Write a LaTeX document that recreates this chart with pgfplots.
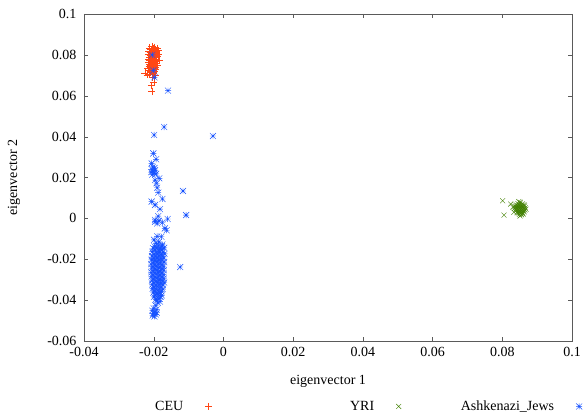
\documentclass[border=0pt]{standalone}
\usepackage{pgfplots}
\pgfplotsset{compat=1.18}
\usepackage{fontspec}
\setmainfont{Liberation Serif}
\definecolor{ceu}{RGB}{255,70,20}
\definecolor{yri}{RGB}{64,128,0}
\definecolor{ash}{RGB}{20,80,255}
\definecolor{axc}{RGB}{90,90,90}
\pgfdeclareplotmark{gpstar}{%
  \pgfpathmoveto{\pgfqpoint{-\pgfplotmarksize}{0pt}}\pgfpathlineto{\pgfqpoint{\pgfplotmarksize}{0pt}}%
  \pgfpathmoveto{\pgfqpoint{0pt}{-\pgfplotmarksize}}\pgfpathlineto{\pgfqpoint{0pt}{\pgfplotmarksize}}%
  \pgfpathmoveto{\pgfqpoint{-\pgfplotmarksize}{-\pgfplotmarksize}}\pgfpathlineto{\pgfqpoint{\pgfplotmarksize}{\pgfplotmarksize}}%
  \pgfpathmoveto{\pgfqpoint{-\pgfplotmarksize}{\pgfplotmarksize}}\pgfpathlineto{\pgfqpoint{\pgfplotmarksize}{-\pgfplotmarksize}}%
  \pgfusepathqstroke}
\begin{document}
\begin{tikzpicture}[font=\fontsize{14}{16}\selectfont]
\useasboundingbox (-84pt,-79pt) rectangle (502pt,341pt);
\begin{axis}[
  at={(0pt,0pt)}, anchor=south west,
  scale only axis, width=488pt, height=327pt,
  xmin=-0.04, xmax=0.1, ymin=-0.06, ymax=0.1,
  xtick={-0.04,-0.02,0,0.02,0.04,0.06,0.08,0.1},
  xticklabels={-0.04,-0.02,0,0.02,0.04,0.06,0.08,0.1},
  ytick={-0.06,-0.04,-0.02,0,0.02,0.04,0.06,0.08,0.1},
  yticklabels={-0.06,-0.04,-0.02,0,0.02,0.04,0.06,0.08,0.1},
  tick align=inside, major tick length=4pt,
  axis line style={axc, line width=0.6pt}, tick style={axc},
  xticklabel style={yshift=-3pt},
  yticklabel style={xshift=-4pt},
  xlabel={eigenvector 1}, ylabel={eigenvector 2},
  every axis x label/.style={at={(axis description cs:0.5,-0.125)},anchor=center},
  every axis y label/.style={at={(axis description cs:-0.1434,0.5)},anchor=center,rotate=90},
  clip=false,
  legend columns=3,
  legend plot pos=right,
  legend image code/.code={\draw[#1,only marks] plot coordinates {(0pt,0pt)};},
  legend style={at={(axis description cs:-0.0533,-0.2),}, anchor=west, draw=none, fill=none,
    /tikz/every odd column/.append style={column sep=20pt},
    /tikz/every even column/.append style={column sep=40pt}},
  mark options={solid, line width=0.4pt},
]
\addplot[only marks, mark=+, mark size=3.5pt, color=ceu] coordinates {
(-0.0205,0.0842) (-0.0198,0.0838) (-0.0212,0.0835) (-0.0190,0.0832) (-0.0201,0.0829)
(-0.0208,0.0826) (-0.0195,0.0824) (-0.0186,0.0821) (-0.0214,0.0819) (-0.0203,0.0817)
(-0.0199,0.0814) (-0.0210,0.0811) (-0.0192,0.0809) (-0.0206,0.0806) (-0.0201,0.0803)
(-0.0216,0.0801) (-0.0195,0.0799) (-0.0209,0.0797) (-0.0203,0.0794) (-0.0188,0.0792)
(-0.0212,0.0790) (-0.0198,0.0788) (-0.0206,0.0785) (-0.0201,0.0783) (-0.0193,0.0781)
(-0.0215,0.0779) (-0.0207,0.0777) (-0.0199,0.0775) (-0.0183,0.0774) (-0.0211,0.0772)
(-0.0204,0.0770) (-0.0196,0.0768) (-0.0209,0.0766) (-0.0201,0.0764) (-0.0214,0.0762)
(-0.0193,0.0760) (-0.0206,0.0758) (-0.0200,0.0756) (-0.0211,0.0754) (-0.0197,0.0752)
(-0.0205,0.0750) (-0.0190,0.0748) (-0.0213,0.0746) (-0.0202,0.0744) (-0.0208,0.0742)
(-0.0196,0.0740) (-0.0204,0.0737) (-0.0217,0.0735) (-0.0199,0.0733) (-0.0207,0.0731)
(-0.0194,0.0728) (-0.0203,0.0726) (-0.0210,0.0723) (-0.0198,0.0720) (-0.0206,0.0717)
(-0.0225,0.0712) (-0.0201,0.0709) (-0.0212,0.0705) (-0.0196,0.0700) (-0.0219,0.0702)
(-0.0204,0.0690) (-0.0200,0.0668) (-0.0207,0.0652) (-0.0205,0.0623) (-0.0210,0.0815)
(-0.0197,0.0796) (-0.0204,0.0778) (-0.0192,0.0767) (-0.0208,0.0749) (-0.0202,0.0736)
(-0.0215,0.0726) (-0.0185,0.0803)
};
\addlegendentry{\makebox[120pt][r]{CEU}}
\addplot[only marks, mark=x, mark size=3.5pt, color=yri] coordinates {
(0.0845,0.0072) (0.0852,0.0075) (0.0858,0.0071) (0.0840,0.0066) (0.0848,0.0068)
(0.0855,0.0065) (0.0862,0.0067) (0.0838,0.0060) (0.0844,0.0061) (0.0850,0.0062)
(0.0857,0.0059) (0.0864,0.0061) (0.0841,0.0055) (0.0847,0.0056) (0.0853,0.0054)
(0.0860,0.0055) (0.0866,0.0052) (0.0836,0.0050) (0.0843,0.0050) (0.0849,0.0049)
(0.0856,0.0048) (0.0862,0.0047) (0.0839,0.0044) (0.0846,0.0043) (0.0852,0.0044)
(0.0858,0.0042) (0.0865,0.0041) (0.0841,0.0038) (0.0848,0.0037) (0.0854,0.0038)
(0.0861,0.0036) (0.0844,0.0032) (0.0850,0.0031) (0.0857,0.0030) (0.0863,0.0032)
(0.0846,0.0026) (0.0853,0.0025) (0.0859,0.0024) (0.0849,0.0020) (0.0855,0.0018)
(0.0851,0.0079) (0.0847,0.0082) (0.0834,0.0058) (0.0868,0.0045) (0.0842,0.0028)
(0.0860,0.0021) (0.0830,0.0055) (0.0833,0.0030) (0.0824,0.0070) (0.0801,0.0086)
(0.0805,0.0016) (0.0851,0.0012)
};
\addlegendentry{\makebox[120pt][r]{YRI}}
\addplot[only marks, mark=gpstar, mark size=3pt, color=ash] coordinates {
(-0.0159,0.0625) (-0.0170,0.0447) (-0.0199,0.0408) (-0.0030,0.0403) (-0.0116,0.0134)
(-0.0107,0.0016) (-0.0124,-0.0238) (-0.0204,0.0800) (-0.0201,0.0724) (-0.0198,0.0690)
(-0.0201,0.0318) (-0.0193,0.0289) (-0.0206,0.0269) (-0.0203,0.0252) (-0.0198,0.0246)
(-0.0205,0.0240) (-0.0196,0.0236) (-0.0202,0.0231) (-0.0207,0.0226) (-0.0199,0.0222)
(-0.0193,0.0218) (-0.0204,0.0214) (-0.0196,0.0188) (-0.0184,0.0196) (-0.0192,0.0172)
(-0.0190,0.0150) (-0.0187,0.0126) (-0.0175,0.0095) (-0.0206,0.0082) (-0.0196,0.0066)
(-0.0182,0.0045) (-0.0187,0.0011) (-0.0196,-0.0008) (-0.0185,-0.0012) (-0.0160,-0.0003)
(-0.0175,-0.0020) (-0.0190,-0.0025) (-0.0168,-0.0049) (-0.0196,-0.0016) (-0.0163,-0.0058)
(-0.0190,-0.0088) (-0.0178,-0.0090) (-0.0199,-0.0105) (-0.0185,-0.0115) (-0.0193,-0.0122)
(-0.0175,-0.0128)
(-0.0198,-0.0137) (-0.0186,-0.0133) (-0.0176,-0.0136)
(-0.0202,-0.0146) (-0.0191,-0.0143) (-0.0181,-0.0147) (-0.0170,-0.0144)
(-0.0196,-0.0154) (-0.0186,-0.0157) (-0.0176,-0.0153)
(-0.0204,-0.0163) (-0.0193,-0.0167) (-0.0183,-0.0164) (-0.0173,-0.0166)
(-0.0199,-0.0176) (-0.0189,-0.0173) (-0.0179,-0.0177) (-0.0169,-0.0174)
(-0.0205,-0.0184) (-0.0195,-0.0187) (-0.0185,-0.0183) (-0.0175,-0.0186)
(-0.0200,-0.0196) (-0.0190,-0.0193) (-0.0180,-0.0197) (-0.0171,-0.0194)
(-0.0206,-0.0203) (-0.0196,-0.0207) (-0.0186,-0.0204) (-0.0176,-0.0206)
(-0.0201,-0.0216) (-0.0191,-0.0213) (-0.0181,-0.0217) (-0.0170,-0.0214)
(-0.0207,-0.0224) (-0.0197,-0.0227) (-0.0187,-0.0223) (-0.0177,-0.0226)
(-0.0202,-0.0236) (-0.0192,-0.0233) (-0.0182,-0.0237) (-0.0172,-0.0234)
(-0.0206,-0.0244) (-0.0196,-0.0247) (-0.0186,-0.0243) (-0.0176,-0.0246)
(-0.0201,-0.0256) (-0.0191,-0.0253) (-0.0181,-0.0257) (-0.0171,-0.0254)
(-0.0207,-0.0264) (-0.0197,-0.0267) (-0.0187,-0.0263) (-0.0177,-0.0266)
(-0.0202,-0.0276) (-0.0192,-0.0273) (-0.0182,-0.0277) (-0.0172,-0.0274)
(-0.0206,-0.0284) (-0.0196,-0.0287) (-0.0186,-0.0283) (-0.0176,-0.0286)
(-0.0201,-0.0296) (-0.0191,-0.0293) (-0.0181,-0.0297) (-0.0171,-0.0294)
(-0.0205,-0.0304) (-0.0195,-0.0307) (-0.0185,-0.0303) (-0.0175,-0.0306)
(-0.0200,-0.0316) (-0.0190,-0.0313) (-0.0180,-0.0317) (-0.0170,-0.0314)
(-0.0204,-0.0324) (-0.0194,-0.0327) (-0.0184,-0.0323) (-0.0174,-0.0326)
(-0.0199,-0.0336) (-0.0189,-0.0333) (-0.0179,-0.0337)
(-0.0203,-0.0344) (-0.0193,-0.0347) (-0.0183,-0.0343) (-0.0174,-0.0346)
(-0.0198,-0.0356) (-0.0188,-0.0353) (-0.0178,-0.0357)
(-0.0201,-0.0364) (-0.0191,-0.0367) (-0.0181,-0.0363)
(-0.0196,-0.0376) (-0.0186,-0.0373) (-0.0177,-0.0377)
(-0.0199,-0.0384) (-0.0189,-0.0387) (-0.0180,-0.0383)
(-0.0194,-0.0396) (-0.0184,-0.0393)
(-0.0192,-0.0404) (-0.0182,-0.0407)
(-0.0188,-0.0414) (-0.0195,-0.0425)
(-0.0200,-0.0440) (-0.0192,-0.0445) (-0.0204,-0.0452) (-0.0197,-0.0458) (-0.0201,-0.0465)
(-0.0194,-0.0470) (-0.0203,-0.0475) (-0.0198,-0.0480) (-0.0191,-0.0462)
};
\addlegendentry{\makebox[111pt][r]{Ashkenazi\_Jews}}
\end{axis}
\end{tikzpicture}
\end{document}
